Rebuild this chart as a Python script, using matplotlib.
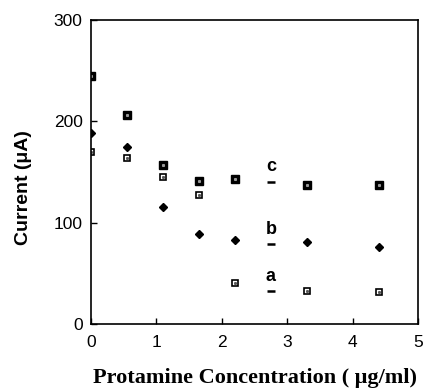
import matplotlib.pyplot as plt

# protamine concentration (ug/ml)
conc = [0, 0.55, 1.1, 1.65, 2.2, 3.3, 4.4]
# currents (uA) for the three curves
current_a = [170, 164, 145, 127, 40, 33, 32]
current_b = [189, 175, 116, 89, 83, 81, 76]
current_c = [245, 206, 157, 141, 143, 137, 137]

labels = ["a", "b", "c"]
label_x = 2.75
label_dash_y = [33, 79, 140]
label_text_y = [38, 85, 147]

fig = plt.figure(figsize=(4.42, 3.88), dpi=100)
ax = fig.add_axes([0.206, 0.165, 0.740, 0.783])

# c: filled squares with a small grey centre
ax.plot(conc, current_c, ls="none", marker="s", ms=5.5, mfc="black", mec="black")
ax.plot(conc, current_c, ls="none", marker="s", ms=1.2, mfc="#999999", mec="#999999")
# b: filled diamonds
ax.plot(conc, current_b, ls="none", marker="D", ms=4.0, mfc="black", mec="black")
# a: open squares with a small dot
ax.plot(conc, current_a, ls="none", marker="s", ms=5.0, mfc="white", mec="black", mew=1.2)
ax.plot(conc, current_a, ls="none", marker="s", ms=1.1, mfc="#555555", mec="#555555")

for lab, yd, yt in zip(labels, label_dash_y, label_text_y):
    ax.plot([label_x], [yd], ls="none", marker="_", ms=6, mew=1.8, color="black")
    ax.text(label_x, yt, lab, ha="center", va="bottom", fontsize=13,
            fontweight="bold", family="Liberation Sans")

ax.set_xlim(0, 5)
ax.set_ylim(0, 300)
ax.set_xticks([0, 1, 2, 3, 4, 5])
ax.set_yticks([0, 100, 200, 300])
ax.tick_params(direction="in", length=4, width=1, labelsize=12.5)
ax.tick_params(axis="x", pad=8)
ax.tick_params(axis="y", pad=6)
for t in ax.get_xticklabels() + ax.get_yticklabels():
    t.set_family("Liberation Sans")
for s in ax.spines.values():
    s.set_linewidth(1.2)

ax.set_xlabel("Protamine Concentration ( \u03bcg/ml)", family="Liberation Serif",
              fontweight="bold", fontsize=16, labelpad=13)
ax.set_ylabel("Current (\u03bcA)", family="Liberation Sans", fontweight="bold",
              fontsize=14)
ax.yaxis.set_label_coords(-0.18, 0.45)

fig.savefig("out.png", dpi=100)
